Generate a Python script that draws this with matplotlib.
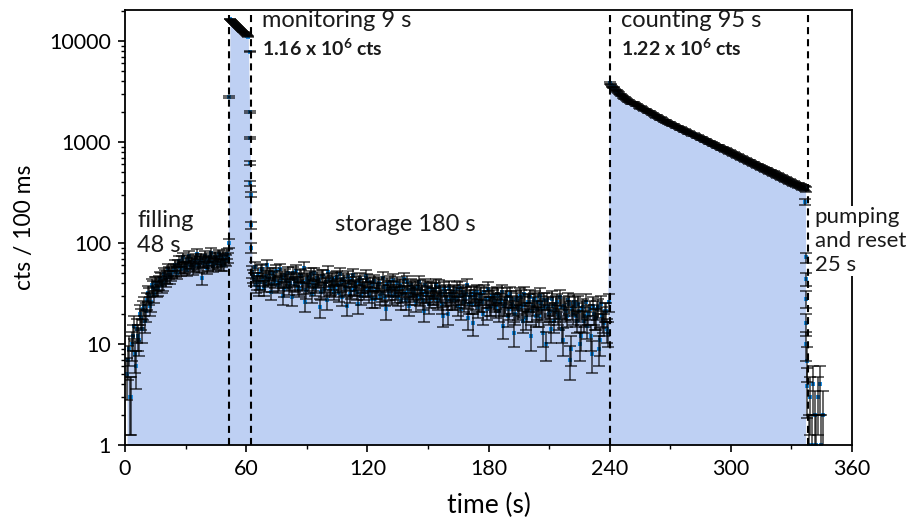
import numpy as np
import pandas as pd
import matplotlib
matplotlib.use("Agg")
import matplotlib.pyplot as plt

plt.rcParams['font.family'] = ['Lato', 'DejaVu Sans']
plt.rcParams['mathtext.fontset'] = 'custom'
plt.rcParams['mathtext.rm'] = 'Lato'
plt.rcParams['mathtext.bf'] = 'Lato:bold'

# filling phase (two interleaved read-outs, 1 s apart each)
fill_t = np.arange(1, 52)
fill_v = [5, 9, 3, 12, 8, 14, 11, 18, 22, 17,
          27, 30, 26, 36, 40, 35, 41, 44, 40, 47,
          46, 51, 49, 55, 53, 60, 58, 66, 57, 63,
          68, 60, 65, 59, 70, 62, 66, 45, 64, 68,
          61, 72, 65, 62, 69, 63, 71, 66, 60, 68,
          72]
fill_t2 = np.arange(1.5, 51, 1.0)
fill_v2 = [7, 3, 10, 15, 6, 12, 20, 14, 24, 21,
           32, 24, 38, 31, 40, 36, 45, 38, 49, 43,
           55, 46, 52, 60, 51, 66, 55, 72, 58, 54,
           74, 63, 56, 67, 78, 58, 70, 64, 75, 57,
           67, 80, 59, 73, 66, 77, 61, 74, 69, 78]

# monitoring phase
mon_t = np.arange(52, 62)
mon_v = [16500, 15800, 15100, 14400, 13800, 13200, 12600, 12100, 11600, 11000]
mon_t2 = np.arange(52.5, 61, 1.0)
mon_v2 = [16200, 15400, 14800, 14100, 13500, 12900, 12300, 11900, 11300]

# shutter transitions (single 100 ms bins)
trans_t = [51.5, 51.6, 61.7, 61.8, 61.9, 62.0, 62.1, 62.2, 62.3, 62.4]
trans_v = [100, 2800, 7800, 2000, 1100, 620, 390, 300, 150, 90]

# storage phase
stor_t = np.arange(63, 240)
stor_v = [52, 44, 38, 49, 41, 55, 36, 47, 43, 50,
          39, 46, 53, 40, 44, 30, 48, 42, 37, 45,
          51, 39, 43, 35, 47, 41, 26, 44, 38, 49,
          40, 36, 45, 42, 33, 47, 39, 27, 43, 37,
          41, 35, 46, 32, 39, 44, 36, 24, 40, 34,
          48, 37, 33, 41, 30, 38, 35, 43, 31, 36,
          39, 28, 34, 40, 32, 37, 22, 35, 41, 30,
          36, 33, 29, 38, 31, 44, 27, 34, 30, 35,
          32, 26, 37, 29, 33, 21, 31, 36, 28, 34,
          30, 38, 27, 32, 25, 35, 29, 20, 31, 27,
          33, 28, 24, 36, 30, 26, 31, 18, 29, 25,
          32, 27, 23, 30, 26, 33, 22, 28, 24, 29,
          26, 31, 21, 27, 15, 25, 30, 22, 28, 24,
          20, 27, 23, 29, 17, 25, 21, 26, 12, 24,
          28, 22, 19, 25, 13, 23, 27, 20, 14, 24,
          21, 26, 18, 23, 11, 22, 19, 25, 9, 20,
          24, 17, 21, 12, 23, 19, 15, 22, 8, 20,
          18, 23, 11, 19, 16, 21, 13]
stor_t2 = np.arange(63.5, 240, 1.0)
stor_v2 = [47, 58, 41, 36, 53, 44, 39, 60, 45, 33,
           49, 42, 38, 55, 46, 35, 43, 51, 40, 29,
           44, 53, 37, 48, 40, 57, 34, 42, 46, 31,
           50, 38, 43, 23, 47, 35, 41, 52, 36, 44,
           33, 45, 38, 49, 29, 42, 37, 46, 31, 43,
           36, 40, 25, 44, 38, 33, 47, 35, 40, 28,
           42, 34, 38, 30, 45, 29, 39, 33, 36, 43,
           31, 40, 35, 27, 37, 32, 41, 24, 38, 33,
           36, 30, 41, 34, 27, 38, 32, 25, 35, 30,
           34, 28, 37, 31, 19, 33, 27, 36, 29, 32,
           27, 35, 30, 22, 33, 28, 38, 25, 31, 16,
           29, 33, 26, 31, 20, 28, 35, 24, 30, 27,
           23, 30, 26, 33, 24, 28, 19, 31, 25, 13,
           28, 22, 30, 24, 31, 18, 26, 29, 21, 27,
           19, 26, 30, 22, 27, 10, 24, 21, 28, 17,
           25, 20, 29, 14, 24, 21, 27, 7, 22, 26,
           19, 25, 10, 22, 17, 26, 20, 12, 24, 18,
           22, 9, 25, 17, 21, 14, 26]

# counting phase
cnt_t = np.arange(240, 338)
cnt_v = [3850, 3560, 3470, 3230, 3150, 2950, 2900, 2720, 2690, 2540,
         2510, 2420, 2430, 2310, 2300, 2190, 2180, 2090, 2080, 1980,
         1970, 1880, 1870, 1790, 1780, 1700, 1690, 1610, 1600, 1540,
         1530, 1470, 1465, 1410, 1400, 1345, 1340, 1290, 1280, 1235,
         1225, 1180, 1170, 1125, 1120, 1080, 1070, 1030, 1025, 985,
         980, 945, 935, 900, 895, 865, 855, 825, 820, 790,
         783, 755, 750, 722, 716, 690, 686, 660, 655, 632,
         627, 604, 600, 577, 574, 552, 549, 529, 525, 505,
         502, 483, 480, 462, 460, 442, 440, 423, 420, 404,
         401, 387, 384, 370, 367, 354, 351, 340]
cnt_t2 = np.arange(240.5, 337, 1.0)
cnt_v2 = [3700, 3480, 3330, 3210, 3040, 2940, 2800, 2730, 2600, 2550,
          2450, 2440, 2360, 2330, 2240, 2210, 2130, 2100, 2020, 2000,
          1920, 1890, 1830, 1800, 1740, 1710, 1650, 1630, 1570, 1555,
          1500, 1480, 1435, 1420, 1370, 1360, 1310, 1300, 1255, 1245,
          1200, 1190, 1145, 1140, 1098, 1090, 1048, 1042, 1003, 998,
          962, 950, 915, 912, 878, 870, 840, 836, 805, 800,
          770, 765, 736, 731, 703, 700, 672, 668, 643, 640,
          615, 612, 588, 585, 563, 560, 539, 536, 515, 512,
          492, 490, 471, 469, 451, 449, 431, 429, 412, 410,
          394, 392, 377, 375, 361, 359, 346]

# emptying / pumping
tail_t = [336.9, 337.0, 337.1, 337.2, 337.3, 337.4, 337.5, 337.6,
          338.5, 339.3, 340.1, 340.8, 341.6, 342.4, 343.1, 343.9, 344.7, 345.4]
tail_v = [254, 72, 44, 28, 16, 10, 6.8, 3.8,
          1, 3, 1, 4, 2, 1, 3, 4, 1, 2]

phase_lines = [51.6, 62.4, 240, 338]

fig = plt.figure(figsize=(9.1, 5.19), dpi=100)
ax = fig.add_axes([0.1374, 0.1426, 0.7989, 0.8381])

# shaded area under the data (smoothed per phase)
area_t, area_v = [], []
for t, v in [(fill_t, fill_v), (mon_t, mon_v), (stor_t, stor_v), (cnt_t, cnt_v)]:
    area_t.extend(t)
    area_v.extend(pd.Series(v, dtype=float).rolling(7, center=True, min_periods=1).median())
ax.fill_between(area_t, 1, area_v, color='#bed0f3', lw=0, zorder=1)

all_t = np.concatenate([fill_t, fill_t2, mon_t, mon_t2, trans_t,
                        stor_t, stor_t2, cnt_t, cnt_t2, tail_t])
all_v = np.concatenate([fill_v, fill_v2, mon_v, mon_v2, trans_v,
                        stor_v, stor_v2, cnt_v, cnt_v2, tail_v]).astype(float)
err = np.sqrt(all_v)

ax.plot(all_t, all_v, 's', ms=2.8, color='#1e90e6', mew=0, zorder=2)
ax.errorbar(all_t, all_v, yerr=err, fmt='none', ecolor='#000000', elinewidth=1.2,
            capsize=4.5, capthick=1.2, alpha=0.7, zorder=3)

for x in phase_lines:
    ax.axvline(x, color='black', lw=1.5, ls=(0, (3.4, 2.4)), zorder=4)

ax.set_yscale('log')
ax.set_xlim(0, 360)
ax.set_ylim(1, 20300)
ax.set_xticks(np.arange(0, 361, 60))
ax.set_xticks(np.arange(30, 361, 60), minor=True)
ax.set_yticks([1, 10, 100, 1000, 10000])
ax.set_yticklabels(['1', '10', '100', '1000', '10000'])
ax.tick_params(axis='both', which='major', labelsize=15.5, length=5, width=1.2, pad=5)
ax.tick_params(axis='both', which='minor', length=3, width=1)
for s in ax.spines.values():
    s.set_linewidth(1.3)

ax.set_xlabel('time (s)', fontsize=19, labelpad=10)
ax.set_ylabel('cts / 100 ms', fontsize=16.5, labelpad=10)

tc = '#1a1a1a'
big = 17
ax.text(6, 169, 'filling', fontsize=big, color=tc, va='center', zorder=5)
ax.text(6, 95, '48 s', fontsize=big, color=tc, va='center', zorder=5)
ax.text(104, 151, 'storage 180 s', fontsize=big, color=tc, va='center', zorder=5)
ax.text(68, 16100, 'monitoring 9 s', fontsize=big, color=tc, va='center', zorder=5)
ax.text(68, 8500, r'1.16 x 10$^{\mathbf{6}}$ cts', fontsize=14, fontweight='bold',
        color=tc, va='center', zorder=5)
ax.text(245.4, 16100, 'counting 95 s', fontsize=big, color=tc, va='center', zorder=5)
ax.text(245.4, 8500, r'1.22 x 10$^{\mathbf{6}}$ cts', fontsize=14, fontweight='bold',
        color=tc, va='center', zorder=5)
ax.text(341.5, 105, 'pumping\nand reset\n25 s', fontsize=16, color=tc, va='center',
        linespacing=1.25, zorder=5, clip_on=False,
        bbox=dict(facecolor='white', edgecolor='none', pad=1))

fig.savefig('out.png', dpi=100)
